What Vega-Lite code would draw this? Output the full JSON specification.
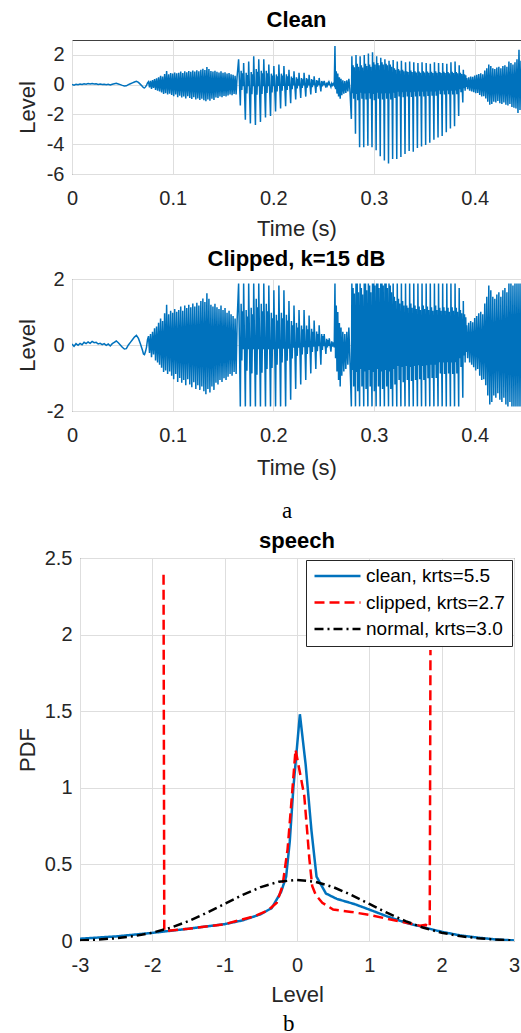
{
"$schema": "https://vega.github.io/schema/vega-lite/v6.json",
"padding": {"left": 8, "top": 8, "right": 0, "bottom": 0},
"background": "white",
"config": {
"font": "Liberation Sans",
"view": {"stroke": null},
"axis": {"labelFont": "Liberation Sans", "labelFontSize": 20, "labelColor": "#262626", "titleFont": "Liberation Sans", "titleFontSize": 22, "titleFontWeight": "normal", "titleColor": "#262626", "ticks": false, "domain": false, "grid": true, "gridColor": "#dedede", "gridWidth": 1, "labelFlush": false, "labelOverlap": false},
"axisX": {"labelPadding": 14, "titlePadding": 10},
"axisY": {"labelPadding": 8, "titlePadding": 7},
"title": {"font": "Liberation Sans", "fontSize": 22, "fontWeight": "bold", "color": "#000000", "anchor": "middle", "frame": "group", "baseline": "alphabetic"},
"legend": {"orient": "top-right", "offset": 2, "padding": 7, "strokeColor": "#262626", "fillColor": "#ffffff", "symbolType": "stroke", "symbolSize": 2116, "symbolStrokeWidth": 2.5, "labelFont": "Liberation Sans", "labelFontSize": 19, "labelColor": "#000000", "labelOffset": 4, "rowPadding": 7.5, "clipHeight": 18}
},
"datasets": {
"clean": [
{"t":0,"v":0.02},{"t":0.002,"v":-0.03},{"t":0.004,"v":0.03},{"t":0.006,"v":-0.01},{"t":0.008,"v":0.04},{"t":0.01,"v":0.01},{"t":0.012,"v":0.06},{"t":0.014,"v":0.03},{"t":0.016,"v":0.07},{"t":0.018,"v":0.04},{"t":0.02,"v":0.08},{"t":0.022,"v":0.05},{"t":0.024,"v":0.06},{"t":0.026,"v":0.02},{"t":0.028,"v":0.04},{"t":0.03,"v":0.01},{"t":0.032,"v":0.03},{"t":0.034,"v":-0.01},{"t":0.036,"v":0.02},{"t":0.038,"v":-0.02},{"t":0.04,"v":0.03},{"t":0.042,"v":0.06},{"t":0.044,"v":0.09},{"t":0.046,"v":0.05},{"t":0.048,"v":0},{"t":0.05,"v":-0.05},{"t":0.052,"v":-0.09},{"t":0.054,"v":-0.08},{"t":0.056,"v":0},{"t":0.058,"v":0.06},{"t":0.06,"v":0.12},{"t":0.062,"v":0.18},{"t":0.064,"v":0.22},{"t":0.066,"v":0.15},{"t":0.068,"v":0.02},{"t":0.07,"v":-0.12},{"t":0.071,"v":-0.2},{"t":0.072,"v":-0.22},{"t":0.073,"v":-0.15},{"t":0.074,"v":-0.05},{"t":0.075,"v":0.12},
{"t":0.076,"v":0.2},{"t":0.077,"v":-0.18},{"t":0.078,"v":0.25},{"t":0.079,"v":-0.28},{"t":0.08,"v":0.3},{"t":0.081,"v":-0.22},{"t":0.082,"v":0.38},{"t":0.083,"v":-0.35},{"t":0.084,"v":0.42},{"t":0.085,"v":-0.4},{"t":0.086,"v":0.5},{"t":0.087,"v":-0.45},{"t":0.088,"v":0.6},{"t":0.089,"v":-0.52},{"t":0.09,"v":0.55},{"t":0.091,"v":-0.62},{"t":0.092,"v":0.72},{"t":0.093,"v":-0.58},{"t":0.094,"v":0.92},{"t":0.095,"v":-0.66},{"t":0.096,"v":0.7},{"t":0.097,"v":-0.6},{"t":0.098,"v":0.78},{"t":0.099,"v":-0.7},{"t":0.1,"v":0.74},{"t":0.101,"v":-0.78},{"t":0.102,"v":0.82},{"t":0.103,"v":-0.66},{"t":0.104,"v":0.76},{"t":0.105,"v":-0.84},{"t":0.106,"v":0.8},{"t":0.107,"v":-0.75},{"t":0.108,"v":0.88},{"t":0.109,"v":-0.86},{"t":0.11,"v":0.78},{"t":0.111,"v":-0.8},{"t":0.112,"v":0.9},{"t":0.113,"v":-0.92},{"t":0.114,"v":0.84},{"t":0.115,"v":-0.78},{"t":0.116,"v":0.92},{"t":0.117,"v":-0.9},{"t":0.118,"v":0.86},{"t":0.119,"v":-0.96},{"t":0.12,"v":0.95},{"t":0.121,"v":-0.85},{"t":0.122,"v":0.88},{"t":0.123,"v":-1.0},{"t":0.124,"v":0.96},{"t":0.125,"v":-0.92},{"t":0.126,"v":0.9},{"t":0.127,"v":-1.02},{"t":0.128,"v":1.0},{"t":0.129,"v":-0.95},{"t":0.13,"v":1.06},{"t":0.131,"v":-1.05},{"t":0.132,"v":0.98},{"t":0.133,"v":-1.12},{"t":0.134,"v":1.18},{"t":0.135,"v":-1.0},{"t":0.136,"v":1.05},{"t":0.137,"v":-1.08},{"t":0.138,"v":0.92},{"t":0.139,"v":-0.95},{"t":0.14,"v":0.88},{"t":0.141,"v":-1.02},{"t":0.142,"v":0.94},{"t":0.143,"v":-0.86},{"t":0.144,"v":0.86},{"t":0.145,"v":-0.9},{"t":0.146,"v":0.82},{"t":0.147,"v":-0.8},{"t":0.148,"v":0.9},{"t":0.149,"v":-0.84},{"t":0.15,"v":0.8},{"t":0.151,"v":-0.76},{"t":0.152,"v":0.84},{"t":0.153,"v":-0.8},{"t":0.154,"v":0.74},{"t":0.155,"v":-0.72},{"t":0.156,"v":0.78},{"t":0.157,"v":-0.66},{"t":0.158,"v":0.7},{"t":0.159,"v":-0.7},{"t":0.16,"v":0.66},{"t":0.161,"v":-0.62},{"t":0.162,"v":0.6},{"t":0.163,"v":-0.66},{"t":0.164,"v":0.55},
{"t":0.1655,"v":1.7},{"t":0.1672,"v":-1.4},{"t":0.168,"v":0.94},{"t":0.1687,"v":-0.35},{"t":0.1695,"v":0.77},{"t":0.1701,"v":-0.1},
{"t":0.1705,"v":1.45},{"t":0.1722,"v":-2.35},{"t":0.173,"v":0.8},{"t":0.1737,"v":-0.59},{"t":0.1745,"v":0.65},{"t":0.1751,"v":-0.1},
{"t":0.1755,"v":1.55},{"t":0.1772,"v":-2.6},{"t":0.178,"v":0.85},{"t":0.1787,"v":-0.65},{"t":0.1795,"v":0.7},{"t":0.1801,"v":-0.1},
{"t":0.1805,"v":1.9},{"t":0.1822,"v":-2.7},{"t":0.183,"v":1.05},{"t":0.1837,"v":-0.68},{"t":0.1845,"v":0.86},{"t":0.1851,"v":-0.1},
{"t":0.1855,"v":1.7},{"t":0.1872,"v":-2.5},{"t":0.188,"v":0.94},{"t":0.1887,"v":-0.63},{"t":0.1895,"v":0.77},{"t":0.1901,"v":-0.1},
{"t":0.1905,"v":1.7},{"t":0.1922,"v":-2.2},{"t":0.193,"v":0.94},{"t":0.1937,"v":-0.55},{"t":0.1945,"v":0.77},{"t":0.1951,"v":-0.1},
{"t":0.1955,"v":1.35},{"t":0.1972,"v":-2.1},{"t":0.198,"v":0.74},{"t":0.1987,"v":-0.53},{"t":0.1995,"v":0.61},{"t":0.2001,"v":-0.1},
{"t":0.2005,"v":1.25},{"t":0.2022,"v":-1.8},{"t":0.203,"v":0.69},{"t":0.2037,"v":-0.45},{"t":0.2045,"v":0.56},{"t":0.2051,"v":-0.08},
{"t":0.2055,"v":1.35},{"t":0.2072,"v":-1.6},{"t":0.208,"v":0.74},{"t":0.2087,"v":-0.4},{"t":0.2095,"v":0.61},{"t":0.2101,"v":-0.08},
{"t":0.2105,"v":1.25},{"t":0.2122,"v":-1.45},{"t":0.213,"v":0.69},{"t":0.2137,"v":-0.36},{"t":0.2145,"v":0.56},{"t":0.2151,"v":-0.08},
{"t":0.2155,"v":1.0},{"t":0.2172,"v":-1.25},{"t":0.218,"v":0.55},{"t":0.2187,"v":-0.31},{"t":0.2195,"v":0.45},{"t":0.2201,"v":-0.06},
{"t":0.2205,"v":0.9},{"t":0.2222,"v":-1.0},{"t":0.223,"v":0.5},{"t":0.2237,"v":-0.25},{"t":0.2245,"v":0.4},{"t":0.2251,"v":-0.06},
{"t":0.2255,"v":0.8},{"t":0.2272,"v":-0.9},{"t":0.228,"v":0.44},{"t":0.2287,"v":-0.22},{"t":0.2295,"v":0.36},{"t":0.2301,"v":-0.05},
{"t":0.2305,"v":0.8},{"t":0.2322,"v":-0.8},{"t":0.233,"v":0.44},{"t":0.2337,"v":-0.2},{"t":0.2345,"v":0.36},{"t":0.2351,"v":-0.05},
{"t":0.2355,"v":0.67},{"t":0.2372,"v":-0.65},{"t":0.238,"v":0.37},{"t":0.2387,"v":-0.16},{"t":0.2395,"v":0.3},{"t":0.2401,"v":-0.04},
{"t":0.2405,"v":0.56},{"t":0.2422,"v":-0.55},{"t":0.243,"v":0.31},{"t":0.2437,"v":-0.14},{"t":0.2445,"v":0.25},{"t":0.2451,"v":-0.03},
{"t":0.2455,"v":0.45},{"t":0.2472,"v":-0.45},{"t":0.248,"v":0.25},{"t":0.2487,"v":-0.11},{"t":0.2495,"v":0.2},{"t":0.2501,"v":-0.03},
{"t":0.2505,"v":0.25},{"t":0.2522,"v":-0.2},{"t":0.253,"v":0.14},{"t":0.2537,"v":-0.05},{"t":0.2545,"v":0.11},{"t":0.2551,"v":-0.02},
{"t":0.2555,"v":0.15},{"t":0.2572,"v":-0.15},{"t":0.258,"v":0.08},{"t":0.2587,"v":-0.04},{"t":0.2595,"v":0.06},{"t":0.2601,"v":0},
{"t":0.2605,"v":-0.05},{"t":0.2612,"v":2.6},{"t":0.2618,"v":-0.3},{"t":0.2625,"v":0.9},{"t":0.2632,"v":-0.6},{"t":0.264,"v":0.75},{"t":0.2648,"v":-0.8},{"t":0.2656,"v":0.5},{"t":0.2664,"v":-0.95},{"t":0.2672,"v":0.4},{"t":0.268,"v":-0.7},{"t":0.269,"v":0.3},{"t":0.27,"v":-0.6},{"t":0.271,"v":0.25},{"t":0.272,"v":-0.55},{"t":0.273,"v":0.3},{"t":0.274,"v":-0.45},{"t":0.275,"v":0.4},{"t":0.276,"v":-0.3},
{"t":0.2775,"v":-2.3},{"t":0.278,"v":1.9},{"t":0.2786,"v":-0.57},{"t":0.2792,"v":1.3},{"t":0.2798,"v":-0.95},{"t":0.2804,"v":1.17},{"t":0.281,"v":-0.38},
{"t":0.2816,"v":-3.3},{"t":0.2821,"v":2.0},{"t":0.2827,"v":-0.62},{"t":0.2833,"v":1.4},{"t":0.2839,"v":-1.05},{"t":0.2845,"v":1.2},{"t":0.2851,"v":-0.4},
{"t":0.2857,"v":-4.2},{"t":0.2862,"v":1.9},{"t":0.2868,"v":-0.55},{"t":0.2874,"v":1.3},{"t":0.288,"v":-0.95},{"t":0.2886,"v":1.15},{"t":0.2892,"v":-0.35},
{"t":0.2898,"v":-4.2},{"t":0.2903,"v":2.0},{"t":0.2909,"v":-0.6},{"t":0.2915,"v":1.4},{"t":0.2921,"v":-1.0},{"t":0.2927,"v":1.25},{"t":0.2933,"v":-0.4},
{"t":0.2939,"v":-4.1},{"t":0.2944,"v":2.1},{"t":0.295,"v":-0.57},{"t":0.2956,"v":1.35},{"t":0.2962,"v":-0.95},{"t":0.2968,"v":1.2},{"t":0.2974,"v":-0.38},
{"t":0.298,"v":-4.2},{"t":0.2985,"v":2.18},{"t":0.2991,"v":-0.62},{"t":0.2997,"v":1.5},{"t":0.3003,"v":-1.05},{"t":0.3009,"v":1.35},{"t":0.3015,"v":-0.4},
{"t":0.3021,"v":-4.4},{"t":0.3026,"v":1.9},{"t":0.3032,"v":-0.55},{"t":0.3038,"v":1.45},{"t":0.3044,"v":-0.95},{"t":0.305,"v":1.3},{"t":0.3056,"v":-0.35},
{"t":0.3062,"v":-4.8},{"t":0.3067,"v":1.8},{"t":0.3073,"v":-0.6},{"t":0.3079,"v":1.5},{"t":0.3085,"v":-1.0},{"t":0.3091,"v":1.35},{"t":0.3097,"v":-0.4},
{"t":0.3103,"v":-5.1},{"t":0.3108,"v":1.7},{"t":0.3114,"v":-0.57},{"t":0.312,"v":1.4},{"t":0.3126,"v":-0.95},{"t":0.3132,"v":1.3},{"t":0.3138,"v":-0.38},
{"t":0.3144,"v":-5.3},{"t":0.3149,"v":1.6},{"t":0.3155,"v":-0.6},{"t":0.3161,"v":1.35},{"t":0.3167,"v":-1.0},{"t":0.3173,"v":1.2},{"t":0.3179,"v":-0.4},
{"t":0.3185,"v":-5.0},{"t":0.319,"v":1.65},{"t":0.3196,"v":-0.55},{"t":0.3202,"v":1.1},{"t":0.3208,"v":-0.9},{"t":0.3214,"v":1.0},{"t":0.322,"v":-0.35},
{"t":0.3226,"v":-5.0},{"t":0.3231,"v":1.55},{"t":0.3237,"v":-0.48},{"t":0.3243,"v":1.05},{"t":0.3249,"v":-0.8},{"t":0.3255,"v":0.95},{"t":0.3261,"v":-0.32},
{"t":0.3267,"v":-4.85},{"t":0.3272,"v":1.6},{"t":0.3278,"v":-0.5},{"t":0.3284,"v":1.0},{"t":0.329,"v":-0.85},{"t":0.3296,"v":0.9},{"t":0.3302,"v":-0.34},
{"t":0.3308,"v":-4.65},{"t":0.3313,"v":1.5},{"t":0.3319,"v":-0.48},{"t":0.3325,"v":0.9},{"t":0.3331,"v":-0.8},{"t":0.3337,"v":0.85},{"t":0.3343,"v":-0.32},
{"t":0.3349,"v":-4.45},{"t":0.3354,"v":1.55},{"t":0.336,"v":-0.5},{"t":0.3366,"v":0.95},{"t":0.3372,"v":-0.82},{"t":0.3378,"v":0.85},{"t":0.3384,"v":-0.33},
{"t":0.339,"v":-4.5},{"t":0.3395,"v":1.5},{"t":0.3401,"v":-0.48},{"t":0.3407,"v":0.9},{"t":0.3413,"v":-0.8},{"t":0.3419,"v":0.82},{"t":0.3425,"v":-0.32},
{"t":0.3431,"v":-4.25},{"t":0.3436,"v":1.45},{"t":0.3442,"v":-0.46},{"t":0.3448,"v":0.88},{"t":0.3454,"v":-0.78},{"t":0.346,"v":0.8},{"t":0.3466,"v":-0.3},
{"t":0.3472,"v":-4.15},{"t":0.3477,"v":1.5},{"t":0.3483,"v":-0.48},{"t":0.3489,"v":0.9},{"t":0.3495,"v":-0.8},{"t":0.3501,"v":0.82},{"t":0.3507,"v":-0.32},
{"t":0.3513,"v":-4.05},{"t":0.3518,"v":1.45},{"t":0.3524,"v":-0.46},{"t":0.353,"v":0.88},{"t":0.3536,"v":-0.76},{"t":0.3542,"v":0.8},{"t":0.3548,"v":-0.3},
{"t":0.3554,"v":-3.9},{"t":0.3559,"v":1.4},{"t":0.3565,"v":-0.45},{"t":0.3571,"v":0.86},{"t":0.3577,"v":-0.75},{"t":0.3583,"v":0.78},{"t":0.3589,"v":-0.3},
{"t":0.3595,"v":-3.7},{"t":0.36,"v":1.5},{"t":0.3606,"v":-0.45},{"t":0.3612,"v":0.9},{"t":0.3618,"v":-0.75},{"t":0.3624,"v":0.8},{"t":0.363,"v":-0.3},
{"t":0.3636,"v":-3.55},{"t":0.3641,"v":1.45},{"t":0.3647,"v":-0.39},{"t":0.3653,"v":0.85},{"t":0.3659,"v":-0.65},{"t":0.3665,"v":0.78},{"t":0.3671,"v":-0.26},
{"t":0.3677,"v":-3.45},{"t":0.3682,"v":1.45},{"t":0.3688,"v":-0.4},{"t":0.3694,"v":0.86},{"t":0.37,"v":-0.66},{"t":0.3706,"v":0.78},{"t":0.3712,"v":-0.26},
{"t":0.3718,"v":-3.2},{"t":0.3723,"v":1.4},{"t":0.3729,"v":-0.39},{"t":0.3735,"v":0.85},{"t":0.3741,"v":-0.65},{"t":0.3747,"v":0.76},{"t":0.3753,"v":-0.26},
{"t":0.3759,"v":-2.95},{"t":0.3764,"v":1.5},{"t":0.377,"v":-0.4},{"t":0.3776,"v":0.86},{"t":0.3782,"v":-0.66},{"t":0.3788,"v":0.78},{"t":0.3794,"v":-0.26},
{"t":0.38,"v":-2.8},{"t":0.3805,"v":1.55},{"t":0.3811,"v":-0.39},{"t":0.3817,"v":0.85},{"t":0.3823,"v":-0.65},{"t":0.3829,"v":0.76},{"t":0.3835,"v":-0.26},
{"t":0.3841,"v":-2.1},{"t":0.3846,"v":1.3},{"t":0.3852,"v":-0.3},{"t":0.3858,"v":0.8},{"t":0.3864,"v":-0.5},{"t":0.387,"v":0.72},{"t":0.3876,"v":-0.2},
{"t":0.3882,"v":-1.2},{"t":0.3887,"v":1.0},{"t":0.3893,"v":-0.24},{"t":0.3899,"v":0.7},{"t":0.3905,"v":-0.4},{"t":0.3911,"v":0.63},{"t":0.3917,"v":-0.16},
{"t":0.392,"v":0.45},{"t":0.393,"v":-0.3},{"t":0.394,"v":0.5},{"t":0.395,"v":-0.4},{"t":0.396,"v":0.55},{"t":0.397,"v":-0.45},{"t":0.398,"v":0.52},{"t":0.399,"v":-0.5},{"t":0.4,"v":0.62},{"t":0.401,"v":-0.58},{"t":0.402,"v":0.66},{"t":0.403,"v":-0.55},{"t":0.404,"v":0.72},{"t":0.405,"v":-0.7},{"t":0.406,"v":0.76},{"t":0.407,"v":-0.8},{"t":0.408,"v":0.7},{"t":0.409,"v":-0.78},{"t":0.41,"v":0.95},{"t":0.411,"v":-0.92},{"t":0.412,"v":1.1},{"t":0.413,"v":-1.15},{"t":0.414,"v":1.35},{"t":0.415,"v":-1.35},{"t":0.416,"v":1.25},{"t":0.417,"v":-1.3},{"t":0.418,"v":1.1},{"t":0.419,"v":-1.15},{"t":0.42,"v":1.05},{"t":0.421,"v":-1.2},{"t":0.422,"v":1.15},{"t":0.423,"v":-1.1},{"t":0.424,"v":1.2},{"t":0.425,"v":-1.25},{"t":0.426,"v":1.1},{"t":0.427,"v":-1.3},{"t":0.428,"v":1.25},{"t":0.429,"v":-1.2},{"t":0.43,"v":1.3},{"t":0.431,"v":-1.35},{"t":0.432,"v":1.2},{"t":0.433,"v":-1.4},{"t":0.434,"v":1.55},{"t":0.435,"v":-1.3},{"t":0.436,"v":1.45},{"t":0.437,"v":-1.5},{"t":0.438,"v":1.35},{"t":0.439,"v":-1.55},{"t":0.44,"v":1.5},{"t":0.441,"v":-1.6},{"t":0.442,"v":1.7},{"t":0.443,"v":-1.9},{"t":0.444,"v":2.35},{"t":0.445,"v":-1.7},{"t":0.446,"v":1.6}
],
"clip": [
{"t":0,"v":0.03},{"t":0.002,"v":-0.04},{"t":0.004,"v":0.04},{"t":0.006,"v":-0.01},{"t":0.008,"v":0.05},{"t":0.01,"v":0.01},{"t":0.012,"v":0.08},{"t":0.014,"v":0.04},{"t":0.016,"v":0.09},{"t":0.018,"v":0.05},{"t":0.02,"v":0.11},{"t":0.022,"v":0.07},{"t":0.024,"v":0.08},{"t":0.026,"v":0.03},{"t":0.028,"v":0.05},{"t":0.03,"v":0.01},{"t":0.032,"v":0.04},{"t":0.034,"v":-0.01},{"t":0.036,"v":0.03},{"t":0.038,"v":-0.03},{"t":0.04,"v":0.04},{"t":0.042,"v":0.08},{"t":0.044,"v":0.12},{"t":0.046,"v":0.07},{"t":0.048,"v":0},{"t":0.05,"v":-0.07},{"t":0.052,"v":-0.12},{"t":0.054,"v":-0.11},{"t":0.056,"v":0},{"t":0.058,"v":0.08},{"t":0.06,"v":0.16},{"t":0.062,"v":0.24},{"t":0.064,"v":0.29},{"t":0.066,"v":0.2},{"t":0.068,"v":0.03},{"t":0.07,"v":-0.16},{"t":0.071,"v":-0.27},{"t":0.072,"v":-0.29},{"t":0.073,"v":-0.2},{"t":0.074,"v":-0.07},{"t":0.075,"v":0.16},
{"t":0.076,"v":0.27},{"t":0.077,"v":-0.24},{"t":0.078,"v":0.33},{"t":0.079,"v":-0.37},{"t":0.08,"v":0.4},{"t":0.081,"v":-0.29},{"t":0.082,"v":0.51},{"t":0.083,"v":-0.47},{"t":0.084,"v":0.56},{"t":0.085,"v":-0.53},{"t":0.086,"v":0.67},{"t":0.087,"v":-0.6},{"t":0.088,"v":0.8},{"t":0.089,"v":-0.69},{"t":0.09,"v":0.73},{"t":0.091,"v":-0.82},{"t":0.092,"v":0.96},{"t":0.093,"v":-0.77},{"t":0.094,"v":1.22},{"t":0.095,"v":-0.88},{"t":0.096,"v":0.93},{"t":0.097,"v":-0.8},{"t":0.098,"v":1.04},{"t":0.099,"v":-0.93},{"t":0.1,"v":0.98},{"t":0.101,"v":-1.04},{"t":0.102,"v":1.09},{"t":0.103,"v":-0.88},{"t":0.104,"v":1.01},{"t":0.105,"v":-1.12},{"t":0.106,"v":1.06},{"t":0.107,"v":-1.0},{"t":0.108,"v":1.17},{"t":0.109,"v":-1.14},{"t":0.11,"v":1.04},{"t":0.111,"v":-1.06},{"t":0.112,"v":1.2},{"t":0.113,"v":-1.22},{"t":0.114,"v":1.12},{"t":0.115,"v":-1.04},{"t":0.116,"v":1.22},{"t":0.117,"v":-1.2},{"t":0.118,"v":1.14},{"t":0.119,"v":-1.28},{"t":0.12,"v":1.26},{"t":0.121,"v":-1.13},{"t":0.122,"v":1.17},{"t":0.123,"v":-1.33},{"t":0.124,"v":1.28},{"t":0.125,"v":-1.22},{"t":0.126,"v":1.2},{"t":0.127,"v":-1.36},{"t":0.128,"v":1.33},{"t":0.129,"v":-1.26},{"t":0.13,"v":1.41},{"t":0.131,"v":-1.4},{"t":0.132,"v":1.3},{"t":0.133,"v":-1.49},{"t":0.134,"v":1.57},{"t":0.135,"v":-1.33},{"t":0.136,"v":1.4},{"t":0.137,"v":-1.44},{"t":0.138,"v":1.22},{"t":0.139,"v":-1.26},{"t":0.14,"v":1.17},{"t":0.141,"v":-1.36},{"t":0.142,"v":1.25},{"t":0.143,"v":-1.14},{"t":0.144,"v":1.14},{"t":0.145,"v":-1.2},{"t":0.146,"v":1.09},{"t":0.147,"v":-1.06},{"t":0.148,"v":1.2},{"t":0.149,"v":-1.12},{"t":0.15,"v":1.06},{"t":0.151,"v":-1.01},{"t":0.152,"v":1.12},{"t":0.153,"v":-1.06},{"t":0.154,"v":0.98},{"t":0.155,"v":-0.96},{"t":0.156,"v":1.04},{"t":0.157,"v":-0.88},{"t":0.158,"v":0.93},{"t":0.159,"v":-0.93},{"t":0.16,"v":0.88},{"t":0.161,"v":-0.82},{"t":0.162,"v":0.8},{"t":0.163,"v":-0.88},{"t":0.164,"v":0.73},
{"t":0.1655,"v":1.86},{"t":0.1672,"v":-1.86},{"t":0.168,"v":1.25},{"t":0.1687,"v":-0.47},{"t":0.1695,"v":1.02},{"t":0.1701,"v":-0.13},
{"t":0.1705,"v":1.86},{"t":0.1722,"v":-1.86},{"t":0.173,"v":1.06},{"t":0.1737,"v":-0.78},{"t":0.1745,"v":0.86},{"t":0.1751,"v":-0.13},
{"t":0.1755,"v":1.86},{"t":0.1772,"v":-1.86},{"t":0.178,"v":1.13},{"t":0.1787,"v":-0.86},{"t":0.1795,"v":0.93},{"t":0.1801,"v":-0.13},
{"t":0.1805,"v":1.86},{"t":0.1822,"v":-1.86},{"t":0.183,"v":1.4},{"t":0.1837,"v":-0.9},{"t":0.1845,"v":1.14},{"t":0.1851,"v":-0.13},
{"t":0.1855,"v":1.86},{"t":0.1872,"v":-1.86},{"t":0.188,"v":1.25},{"t":0.1887,"v":-0.84},{"t":0.1895,"v":1.02},{"t":0.1901,"v":-0.13},
{"t":0.1905,"v":1.86},{"t":0.1922,"v":-1.86},{"t":0.193,"v":1.25},{"t":0.1937,"v":-0.73},{"t":0.1945,"v":1.02},{"t":0.1951,"v":-0.13},
{"t":0.1955,"v":1.8},{"t":0.1972,"v":-1.86},{"t":0.198,"v":0.98},{"t":0.1987,"v":-0.7},{"t":0.1995,"v":0.81},{"t":0.2001,"v":-0.13},
{"t":0.2005,"v":1.66},{"t":0.2022,"v":-1.86},{"t":0.203,"v":0.92},{"t":0.2037,"v":-0.6},{"t":0.2045,"v":0.74},{"t":0.2051,"v":-0.11},
{"t":0.2055,"v":1.8},{"t":0.2072,"v":-1.86},{"t":0.208,"v":0.98},{"t":0.2087,"v":-0.53},{"t":0.2095,"v":0.81},{"t":0.2101,"v":-0.11},
{"t":0.2105,"v":1.66},{"t":0.2122,"v":-1.86},{"t":0.213,"v":0.92},{"t":0.2137,"v":-0.48},{"t":0.2145,"v":0.74},{"t":0.2151,"v":-0.11},
{"t":0.2155,"v":1.33},{"t":0.2172,"v":-1.66},{"t":0.218,"v":0.73},{"t":0.2187,"v":-0.41},{"t":0.2195,"v":0.6},{"t":0.2201,"v":-0.08},
{"t":0.2205,"v":1.2},{"t":0.2222,"v":-1.33},{"t":0.223,"v":0.67},{"t":0.2237,"v":-0.33},{"t":0.2245,"v":0.53},{"t":0.2251,"v":-0.08},
{"t":0.2255,"v":1.06},{"t":0.2272,"v":-1.2},{"t":0.228,"v":0.59},{"t":0.2287,"v":-0.29},{"t":0.2295,"v":0.48},{"t":0.2301,"v":-0.07},
{"t":0.2305,"v":1.06},{"t":0.2322,"v":-1.06},{"t":0.233,"v":0.59},{"t":0.2337,"v":-0.27},{"t":0.2345,"v":0.48},{"t":0.2351,"v":-0.07},
{"t":0.2355,"v":0.89},{"t":0.2372,"v":-0.86},{"t":0.238,"v":0.49},{"t":0.2387,"v":-0.21},{"t":0.2395,"v":0.4},{"t":0.2401,"v":-0.05},
{"t":0.2405,"v":0.74},{"t":0.2422,"v":-0.73},{"t":0.243,"v":0.41},{"t":0.2437,"v":-0.19},{"t":0.2445,"v":0.33},{"t":0.2451,"v":-0.04},
{"t":0.2455,"v":0.6},{"t":0.2472,"v":-0.6},{"t":0.248,"v":0.33},{"t":0.2487,"v":-0.15},{"t":0.2495,"v":0.27},{"t":0.2501,"v":-0.04},
{"t":0.2505,"v":0.33},{"t":0.2522,"v":-0.27},{"t":0.253,"v":0.19},{"t":0.2537,"v":-0.07},{"t":0.2545,"v":0.15},{"t":0.2551,"v":-0.03},
{"t":0.2555,"v":0.2},{"t":0.2572,"v":-0.2},{"t":0.258,"v":0.11},{"t":0.2587,"v":-0.05},{"t":0.2595,"v":0.08},{"t":0.2601,"v":0},
{"t":0.2605,"v":-0.07},{"t":0.2612,"v":1.86},{"t":0.2618,"v":-0.4},{"t":0.2625,"v":1.2},{"t":0.2632,"v":-0.8},{"t":0.264,"v":1.0},{"t":0.2648,"v":-1.06},{"t":0.2656,"v":0.67},{"t":0.2664,"v":-1.26},{"t":0.2672,"v":0.53},{"t":0.268,"v":-0.93},{"t":0.269,"v":0.4},{"t":0.27,"v":-0.8},{"t":0.271,"v":0.33},{"t":0.272,"v":-0.73},{"t":0.273,"v":0.4},{"t":0.274,"v":-0.6},{"t":0.275,"v":0.53},{"t":0.276,"v":-0.4},
{"t":0.2775,"v":-1.86},{"t":0.278,"v":1.86},{"t":0.2786,"v":-0.76},{"t":0.2792,"v":1.73},{"t":0.2798,"v":-1.26},{"t":0.2804,"v":1.56},{"t":0.281,"v":-0.51},
{"t":0.2816,"v":-1.86},{"t":0.2821,"v":1.86},{"t":0.2827,"v":-0.82},{"t":0.2833,"v":1.86},{"t":0.2839,"v":-1.4},{"t":0.2845,"v":1.6},{"t":0.2851,"v":-0.53},
{"t":0.2857,"v":-1.86},{"t":0.2862,"v":1.86},{"t":0.2868,"v":-0.73},{"t":0.2874,"v":1.73},{"t":0.288,"v":-1.26},{"t":0.2886,"v":1.53},{"t":0.2892,"v":-0.47},
{"t":0.2898,"v":-1.86},{"t":0.2903,"v":1.86},{"t":0.2909,"v":-0.8},{"t":0.2915,"v":1.86},{"t":0.2921,"v":-1.33},{"t":0.2927,"v":1.66},{"t":0.2933,"v":-0.53},
{"t":0.2939,"v":-1.86},{"t":0.2944,"v":1.86},{"t":0.295,"v":-0.76},{"t":0.2956,"v":1.8},{"t":0.2962,"v":-1.26},{"t":0.2968,"v":1.6},{"t":0.2974,"v":-0.51},
{"t":0.298,"v":-1.86},{"t":0.2985,"v":1.86},{"t":0.2991,"v":-0.82},{"t":0.2997,"v":1.86},{"t":0.3003,"v":-1.4},{"t":0.3009,"v":1.8},{"t":0.3015,"v":-0.53},
{"t":0.3021,"v":-1.86},{"t":0.3026,"v":1.86},{"t":0.3032,"v":-0.73},{"t":0.3038,"v":1.86},{"t":0.3044,"v":-1.26},{"t":0.305,"v":1.73},{"t":0.3056,"v":-0.47},
{"t":0.3062,"v":-1.86},{"t":0.3067,"v":1.86},{"t":0.3073,"v":-0.8},{"t":0.3079,"v":1.86},{"t":0.3085,"v":-1.33},{"t":0.3091,"v":1.8},{"t":0.3097,"v":-0.53},
{"t":0.3103,"v":-1.86},{"t":0.3108,"v":1.86},{"t":0.3114,"v":-0.76},{"t":0.312,"v":1.86},{"t":0.3126,"v":-1.26},{"t":0.3132,"v":1.73},{"t":0.3138,"v":-0.51},
{"t":0.3144,"v":-1.86},{"t":0.3149,"v":1.86},{"t":0.3155,"v":-0.8},{"t":0.3161,"v":1.8},{"t":0.3167,"v":-1.33},{"t":0.3173,"v":1.6},{"t":0.3179,"v":-0.53},
{"t":0.3185,"v":-1.86},{"t":0.319,"v":1.86},{"t":0.3196,"v":-0.73},{"t":0.3202,"v":1.46},{"t":0.3208,"v":-1.2},{"t":0.3214,"v":1.33},{"t":0.322,"v":-0.47},
{"t":0.3226,"v":-1.86},{"t":0.3231,"v":1.86},{"t":0.3237,"v":-0.64},{"t":0.3243,"v":1.4},{"t":0.3249,"v":-1.06},{"t":0.3255,"v":1.26},{"t":0.3261,"v":-0.43},
{"t":0.3267,"v":-1.86},{"t":0.3272,"v":1.86},{"t":0.3278,"v":-0.67},{"t":0.3284,"v":1.33},{"t":0.329,"v":-1.13},{"t":0.3296,"v":1.2},{"t":0.3302,"v":-0.45},
{"t":0.3308,"v":-1.86},{"t":0.3313,"v":1.86},{"t":0.3319,"v":-0.64},{"t":0.3325,"v":1.2},{"t":0.3331,"v":-1.06},{"t":0.3337,"v":1.13},{"t":0.3343,"v":-0.43},
{"t":0.3349,"v":-1.86},{"t":0.3354,"v":1.86},{"t":0.336,"v":-0.67},{"t":0.3366,"v":1.26},{"t":0.3372,"v":-1.09},{"t":0.3378,"v":1.13},{"t":0.3384,"v":-0.44},
{"t":0.339,"v":-1.86},{"t":0.3395,"v":1.86},{"t":0.3401,"v":-0.64},{"t":0.3407,"v":1.2},{"t":0.3413,"v":-1.06},{"t":0.3419,"v":1.09},{"t":0.3425,"v":-0.43},
{"t":0.3431,"v":-1.86},{"t":0.3436,"v":1.86},{"t":0.3442,"v":-0.61},{"t":0.3448,"v":1.17},{"t":0.3454,"v":-1.04},{"t":0.346,"v":1.06},{"t":0.3466,"v":-0.4},
{"t":0.3472,"v":-1.86},{"t":0.3477,"v":1.86},{"t":0.3483,"v":-0.64},{"t":0.3489,"v":1.2},{"t":0.3495,"v":-1.06},{"t":0.3501,"v":1.09},{"t":0.3507,"v":-0.43},
{"t":0.3513,"v":-1.86},{"t":0.3518,"v":1.86},{"t":0.3524,"v":-0.61},{"t":0.353,"v":1.17},{"t":0.3536,"v":-1.01},{"t":0.3542,"v":1.06},{"t":0.3548,"v":-0.4},
{"t":0.3554,"v":-1.86},{"t":0.3559,"v":1.86},{"t":0.3565,"v":-0.6},{"t":0.3571,"v":1.14},{"t":0.3577,"v":-1.0},{"t":0.3583,"v":1.04},{"t":0.3589,"v":-0.4},
{"t":0.3595,"v":-1.86},{"t":0.36,"v":1.86},{"t":0.3606,"v":-0.6},{"t":0.3612,"v":1.2},{"t":0.3618,"v":-1.0},{"t":0.3624,"v":1.06},{"t":0.363,"v":-0.4},
{"t":0.3636,"v":-1.86},{"t":0.3641,"v":1.86},{"t":0.3647,"v":-0.52},{"t":0.3653,"v":1.13},{"t":0.3659,"v":-0.86},{"t":0.3665,"v":1.04},{"t":0.3671,"v":-0.35},
{"t":0.3677,"v":-1.86},{"t":0.3682,"v":1.86},{"t":0.3688,"v":-0.53},{"t":0.3694,"v":1.14},{"t":0.37,"v":-0.88},{"t":0.3706,"v":1.04},{"t":0.3712,"v":-0.35},
{"t":0.3718,"v":-1.86},{"t":0.3723,"v":1.86},{"t":0.3729,"v":-0.52},{"t":0.3735,"v":1.13},{"t":0.3741,"v":-0.86},{"t":0.3747,"v":1.01},{"t":0.3753,"v":-0.35},
{"t":0.3759,"v":-1.86},{"t":0.3764,"v":1.86},{"t":0.377,"v":-0.53},{"t":0.3776,"v":1.14},{"t":0.3782,"v":-0.88},{"t":0.3788,"v":1.04},{"t":0.3794,"v":-0.35},
{"t":0.38,"v":-1.86},{"t":0.3805,"v":1.86},{"t":0.3811,"v":-0.52},{"t":0.3817,"v":1.13},{"t":0.3823,"v":-0.86},{"t":0.3829,"v":1.01},{"t":0.3835,"v":-0.35},
{"t":0.3841,"v":-1.86},{"t":0.3846,"v":1.73},{"t":0.3852,"v":-0.4},{"t":0.3858,"v":1.06},{"t":0.3864,"v":-0.67},{"t":0.387,"v":0.96},{"t":0.3876,"v":-0.27},
{"t":0.3882,"v":-1.6},{"t":0.3887,"v":1.33},{"t":0.3893,"v":-0.32},{"t":0.3899,"v":0.93},{"t":0.3905,"v":-0.53},{"t":0.3911,"v":0.84},{"t":0.3917,"v":-0.21},
{"t":0.392,"v":0.6},{"t":0.393,"v":-0.4},{"t":0.394,"v":0.67},{"t":0.395,"v":-0.53},{"t":0.396,"v":0.73},{"t":0.397,"v":-0.6},{"t":0.398,"v":0.69},{"t":0.399,"v":-0.67},{"t":0.4,"v":0.82},{"t":0.401,"v":-0.77},{"t":0.402,"v":0.88},{"t":0.403,"v":-0.73},{"t":0.404,"v":0.96},{"t":0.405,"v":-0.93},{"t":0.406,"v":1.01},{"t":0.407,"v":-1.06},{"t":0.408,"v":0.93},{"t":0.409,"v":-1.04},{"t":0.41,"v":1.26},{"t":0.411,"v":-1.22},{"t":0.412,"v":1.46},{"t":0.413,"v":-1.53},{"t":0.414,"v":1.8},{"t":0.415,"v":-1.8},{"t":0.416,"v":1.66},{"t":0.417,"v":-1.73},{"t":0.418,"v":1.46},{"t":0.419,"v":-1.53},{"t":0.42,"v":1.4},{"t":0.421,"v":-1.6},{"t":0.422,"v":1.53},{"t":0.423,"v":-1.46},{"t":0.424,"v":1.6},{"t":0.425,"v":-1.66},{"t":0.426,"v":1.46},{"t":0.427,"v":-1.73},{"t":0.428,"v":1.66},{"t":0.429,"v":-1.6},{"t":0.43,"v":1.73},{"t":0.431,"v":-1.8},{"t":0.432,"v":1.6},{"t":0.433,"v":-1.86},{"t":0.434,"v":1.86},{"t":0.435,"v":-1.73},{"t":0.436,"v":1.86},{"t":0.437,"v":-1.86},{"t":0.438,"v":1.8},{"t":0.439,"v":-1.86},{"t":0.44,"v":1.86},{"t":0.441,"v":-1.86},{"t":0.442,"v":1.86},{"t":0.443,"v":-1.86},{"t":0.444,"v":1.86},{"t":0.445,"v":-1.86},{"t":0.446,"v":1.86}
],
"pdf": [
{"s":"clean, krts=5.5","x":-3,"y":0.015},{"s":"clean, krts=5.5","x":-2.5,"y":0.03},{"s":"clean, krts=5.5","x":-2,"y":0.053},{"s":"clean, krts=5.5","x":-1.5,"y":0.08},{"s":"clean, krts=5.5","x":-1,"y":0.11},{"s":"clean, krts=5.5","x":-0.75,"y":0.135},{"s":"clean, krts=5.5","x":-0.5,"y":0.175},{"s":"clean, krts=5.5","x":-0.35,"y":0.215},{"s":"clean, krts=5.5","x":-0.22,"y":0.32},{"s":"clean, krts=5.5","x":-0.15,"y":0.42},{"s":"clean, krts=5.5","x":-0.1,"y":0.65},{"s":"clean, krts=5.5","x":-0.05,"y":1.0},{"s":"clean, krts=5.5","x":0.04,"y":1.48},{"s":"clean, krts=5.5","x":0.12,"y":1.15},{"s":"clean, krts=5.5","x":0.2,"y":0.72},{"s":"clean, krts=5.5","x":0.27,"y":0.42},{"s":"clean, krts=5.5","x":0.4,"y":0.31},{"s":"clean, krts=5.5","x":0.55,"y":0.275},{"s":"clean, krts=5.5","x":0.8,"y":0.24},{"s":"clean, krts=5.5","x":1,"y":0.205},{"s":"clean, krts=5.5","x":1.25,"y":0.16},{"s":"clean, krts=5.5","x":1.5,"y":0.12},{"s":"clean, krts=5.5","x":1.75,"y":0.09},{"s":"clean, krts=5.5","x":2,"y":0.06},{"s":"clean, krts=5.5","x":2.25,"y":0.037},{"s":"clean, krts=5.5","x":2.5,"y":0.022},{"s":"clean, krts=5.5","x":2.75,"y":0.01},{"s":"clean, krts=5.5","x":3,"y":0.004},
{"s":"clipped, krts=2.7","x":-1.845,"y":2.39},{"s":"clipped, krts=2.7","x":-1.835,"y":0.065},{"s":"clipped, krts=2.7","x":-1.5,"y":0.08},{"s":"clipped, krts=2.7","x":-1,"y":0.11},{"s":"clipped, krts=2.7","x":-0.6,"y":0.16},{"s":"clipped, krts=2.7","x":-0.4,"y":0.2},{"s":"clipped, krts=2.7","x":-0.28,"y":0.25},{"s":"clipped, krts=2.7","x":-0.2,"y":0.36},{"s":"clipped, krts=2.7","x":-0.13,"y":0.6},{"s":"clipped, krts=2.7","x":-0.07,"y":0.95},{"s":"clipped, krts=2.7","x":-0.02,"y":1.25},{"s":"clipped, krts=2.7","x":0.02,"y":1.15},{"s":"clipped, krts=2.7","x":0.06,"y":1.05},{"s":"clipped, krts=2.7","x":0.1,"y":0.95},{"s":"clipped, krts=2.7","x":0.14,"y":0.72},{"s":"clipped, krts=2.7","x":0.17,"y":0.54},{"s":"clipped, krts=2.7","x":0.21,"y":0.36},{"s":"clipped, krts=2.7","x":0.26,"y":0.3},{"s":"clipped, krts=2.7","x":0.35,"y":0.25},{"s":"clipped, krts=2.7","x":0.5,"y":0.205},{"s":"clipped, krts=2.7","x":0.75,"y":0.19},{"s":"clipped, krts=2.7","x":1,"y":0.17},{"s":"clipped, krts=2.7","x":1.25,"y":0.145},{"s":"clipped, krts=2.7","x":1.5,"y":0.12},{"s":"clipped, krts=2.7","x":1.7,"y":0.1},{"s":"clipped, krts=2.7","x":1.78,"y":0.105},{"s":"clipped, krts=2.7","x":1.835,"y":0.09},{"s":"clipped, krts=2.7","x":1.845,"y":1.9},
{"s":"normal, krts=3.0","x":-3,"y":0.004},{"s":"normal, krts=3.0","x":-2.75,"y":0.009},{"s":"normal, krts=3.0","x":-2.5,"y":0.018},{"s":"normal, krts=3.0","x":-2.25,"y":0.032},{"s":"normal, krts=3.0","x":-2,"y":0.054},{"s":"normal, krts=3.0","x":-1.75,"y":0.086},{"s":"normal, krts=3.0","x":-1.5,"y":0.13},{"s":"normal, krts=3.0","x":-1.25,"y":0.183},{"s":"normal, krts=3.0","x":-1,"y":0.242},{"s":"normal, krts=3.0","x":-0.75,"y":0.301},{"s":"normal, krts=3.0","x":-0.5,"y":0.352},{"s":"normal, krts=3.0","x":-0.25,"y":0.387},{"s":"normal, krts=3.0","x":0,"y":0.399},{"s":"normal, krts=3.0","x":0.25,"y":0.387},{"s":"normal, krts=3.0","x":0.5,"y":0.352},{"s":"normal, krts=3.0","x":0.75,"y":0.301},{"s":"normal, krts=3.0","x":1,"y":0.242},{"s":"normal, krts=3.0","x":1.25,"y":0.183},{"s":"normal, krts=3.0","x":1.5,"y":0.13},{"s":"normal, krts=3.0","x":1.75,"y":0.086},{"s":"normal, krts=3.0","x":2,"y":0.054},{"s":"normal, krts=3.0","x":2.25,"y":0.032},{"s":"normal, krts=3.0","x":2.5,"y":0.018},{"s":"normal, krts=3.0","x":2.75,"y":0.009},{"s":"normal, krts=3.0","x":3,"y":0.004}
]
},
"spacing": 6,
"resolve": {"scale": {"color": "independent", "strokeDash": "independent"}, "legend": {"color": "independent", "strokeDash": "independent"}},
"vconcat": [
{
"spacing": 0,
"hconcat": [
{"width": 1, "height": 1, "data": {"values": [{"a": 0}]}, "mark": {"type": "point", "opacity": 0}, "encoding": {}},
{
"spacing": 7,
"title": {"text": "a", "orient": "bottom", "anchor": "start", "frame": "group", "font": "Liberation Serif", "fontSize": 23, "fontWeight": "normal", "color": "#000000", "baseline": "top", "offset": 21, "dx": 210},
"vconcat": [
{
"title": {"text": "Clean", "offset": 8},
"width": 449, "height": 134,
"view": {"stroke": "#404040", "strokeWidth": 1},
"data": {"name": "clean"},
"mark": {"type": "line", "color": "#0072BD", "strokeWidth": 1.5, "clip": true},
"encoding": {
"x": {"field": "t", "type": "quantitative", "scale": {"domain": [0, 0.446], "nice": false, "zero": false}, "axis": {"values": [0, 0.1, 0.2, 0.3, 0.4], "labelExpr": "'' + datum.value", "title": "Time (s)"}},
"y": {"field": "v", "type": "quantitative", "scale": {"domain": [-6, 3], "nice": false}, "axis": {"values": [-6, -4, -2, 0, 2], "labelExpr": "'' + datum.value", "title": "Level"}}
}
},
{
"title": {"text": "Clipped, k=15 dB", "offset": -2},
"width": 449, "height": 132,
"view": {"stroke": "#404040", "strokeWidth": 1},
"data": {"name": "clip"},
"mark": {"type": "line", "color": "#0072BD", "strokeWidth": 1.5, "clip": true},
"encoding": {
"x": {"field": "t", "type": "quantitative", "scale": {"domain": [0, 0.446], "nice": false, "zero": false}, "axis": {"values": [0, 0.1, 0.2, 0.3, 0.4], "labelExpr": "'' + datum.value", "title": "Time (s)", "titlePadding": 12}},
"y": {"field": "v", "type": "quantitative", "scale": {"domain": [-2, 2], "nice": false}, "axis": {"values": [-2, 0, 2], "labelExpr": "'' + datum.value", "title": "Level"}}
}
}
]
}
]
},
{
"spacing": 0,
"resolve": {"scale": {"color": "independent", "strokeDash": "independent"}, "legend": {"color": "independent", "strokeDash": "independent"}},
"hconcat": [
{"width": 1, "height": 1, "data": {"values": [{"a": 0}]}, "mark": {"type": "point", "opacity": 0}, "encoding": {}},
{
"title": {"text": "b", "orient": "bottom", "anchor": "start", "frame": "group", "font": "Liberation Serif", "fontSize": 23, "fontWeight": "normal", "color": "#000000", "baseline": "top", "offset": 7, "dx": 203},
"resolve": {"scale": {"color": "independent", "strokeDash": "independent"}, "legend": {"color": "independent", "strokeDash": "independent"}},
"vconcat": [
{
"title": {"text": "speech", "offset": -5},
"width": 434, "height": 383,
"view": {"stroke": "#404040", "strokeWidth": 1},
"data": {"name": "pdf"},
"mark": {"type": "line", "strokeWidth": 2.5, "clip": true},
"encoding": {
"x": {"field": "x", "type": "quantitative", "scale": {"domain": [-3, 3], "nice": false, "zero": false}, "axis": {"values": [-3, -2, -1, 0, 1, 2, 3], "labelExpr": "'' + datum.value", "title": "Level", "titlePadding": 9}},
"y": {"field": "y", "type": "quantitative", "scale": {"domain": [0, 2.5], "nice": false}, "axis": {"values": [0, 0.5, 1, 1.5, 2, 2.5], "labelExpr": "'' + datum.value", "title": "PDF", "titlePadding": 5}},
"color": {"field": "s", "type": "nominal", "scale": {"domain": ["clean, krts=5.5", "clipped, krts=2.7", "normal, krts=3.0"], "range": ["#0072BD", "#FF0000", "#000000"]}, "legend": {"title": null}},
"strokeDash": {"field": "s", "type": "nominal", "scale": {"domain": ["clean, krts=5.5", "clipped, krts=2.7", "normal, krts=3.0"], "range": [[1, 0], [10, 5], [9, 4, 2, 4]]}, "legend": {"title": null}}
}
}
]
}
]
}
]
}
